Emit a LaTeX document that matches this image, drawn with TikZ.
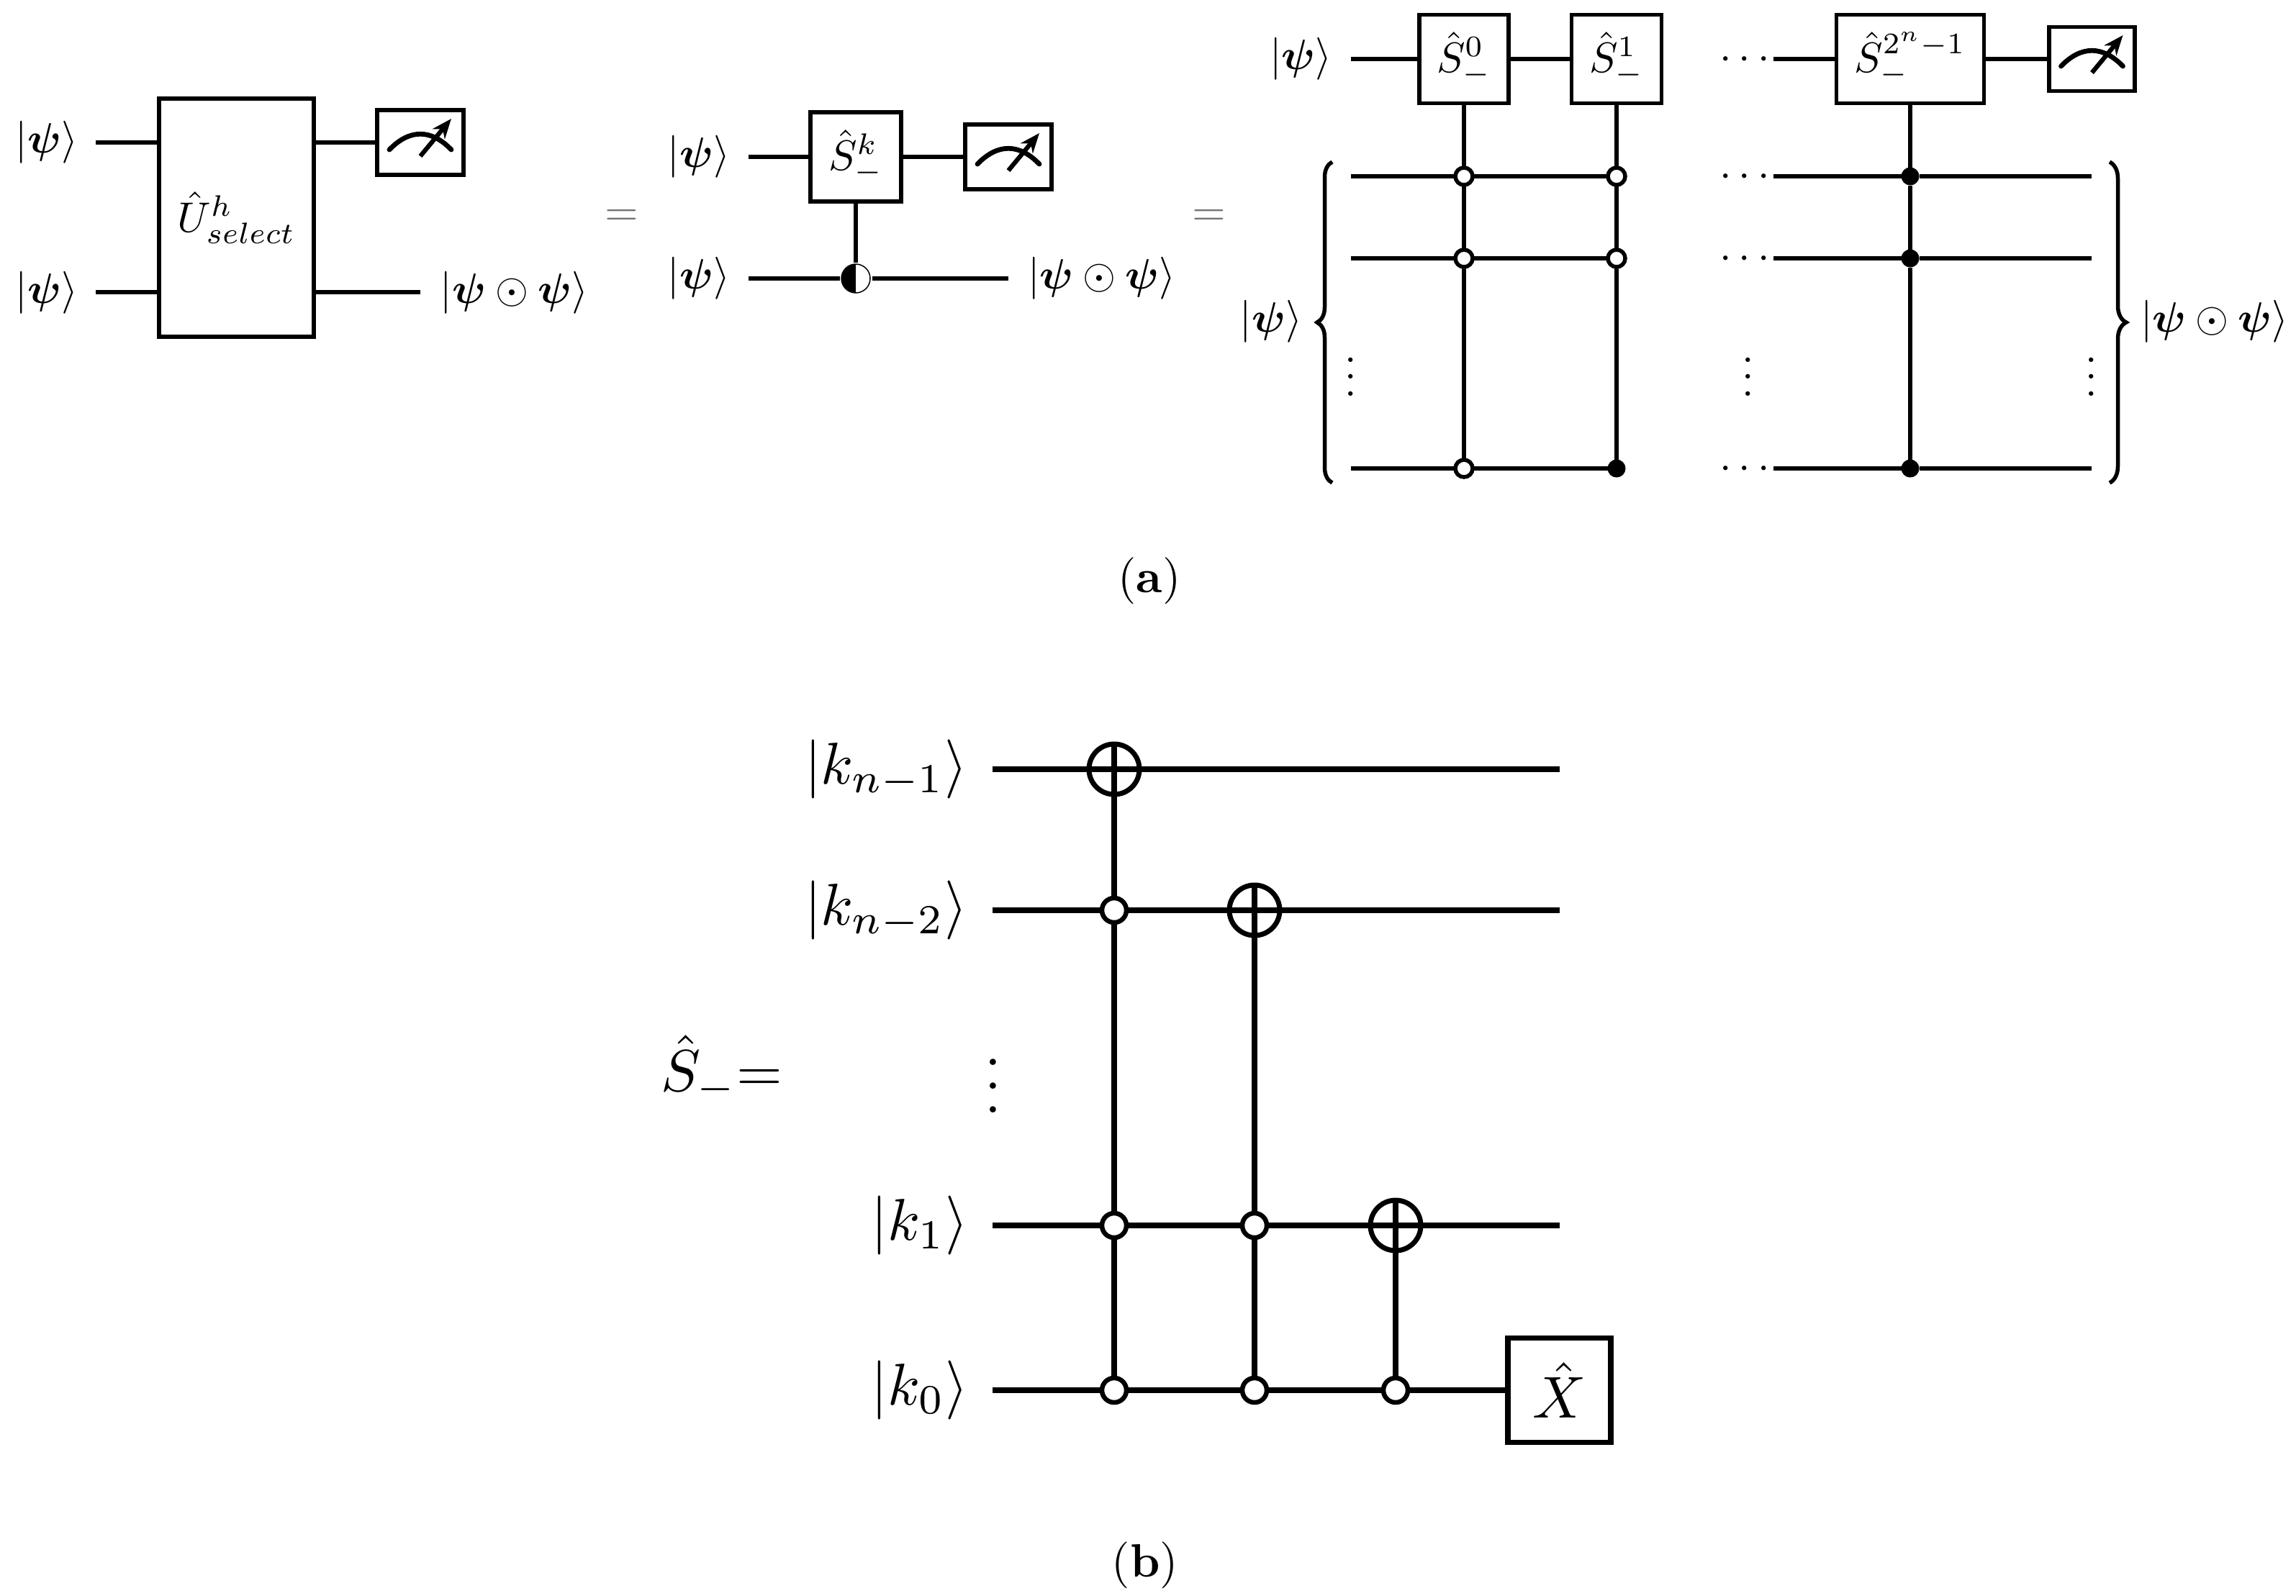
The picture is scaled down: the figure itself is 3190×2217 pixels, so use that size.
\documentclass[tikz,border=0pt]{standalone}
\usepackage{graphicx}
\usepackage{amsmath}
\usetikzlibrary{arrows.meta,decorations.pathreplacing}
\newcommand{\bpsi}{\boldsymbol{\psi}}
\newcommand{\kpsi}{\ensuremath{|\bpsi\rangle}}
\newcommand{\kdot}{\ensuremath{|\bpsi\odot\bpsi\rangle}}
\newcommand{\gl}[1]{\scalebox{1.18}{$#1$}}
\tikzset{
  lbl/.style={inner sep=0pt,scale=1.18,transform shape},
  eqlbl/.style={inner sep=0pt,scale=1.2,transform shape,text=black!55},
  biglbl/.style={inner sep=0pt,scale=1.64,transform shape},
  caplbl/.style={inner sep=0pt,scale=1.3,transform shape},
  wire/.style={line width=1.1pt},
  bigwire/.style={line width=1.5pt},
  gatebox/.style={draw,line width=1.1pt,inner sep=0pt,outer sep=0pt},
  meterbox/.style={draw,line width=1.1pt,inner sep=0pt,outer sep=0pt,minimum width=24pt,minimum height=18pt},
  ctrlo/.style={circle,draw,line width=1.1pt,inner sep=0pt,outer sep=0pt,minimum size=4.8pt},
  ctrlf/.style={circle,fill,inner sep=0pt,outer sep=0pt,minimum size=5pt},
  bigctrl/.style={circle,draw,line width=1.3pt,inner sep=0pt,outer sep=0pt,minimum size=6.8pt},
  target/.style={circle,draw,line width=1.4pt,inner sep=0pt,outer sep=0pt,minimum size=14pt},
  dotsv/.style={inner sep=0pt,anchor=south,scale=1.18,transform shape},
  dotsh/.style={inner sep=0pt,anchor=base,scale=1.18,transform shape},
  needle/.style={line width=1.25pt,-{Stealth[length=5.5pt,width=4.4pt]}}
}
\begin{document}
\begin{tikzpicture}[x=0.2pt,y=-0.2pt]
  \useasboundingbox (0,0) rectangle (3190,2217);
  % first circuit
  \node[lbl] (ka1) at (65,198) {\kpsi};
  \node[lbl] (ka2) at (65,407) {\kpsi};
  \node[gatebox,minimum width=43pt,minimum height=66.2pt] (Usel) at (328.5,302.5) {\gl{\hat{U}^{h}_{select}}};
  \node[meterbox] (ma) at (584,198) {};
  \node[lbl] (oa) at (714.5,407) {\kdot};
  \node[eqlbl] (eqa) at (863.5,302) {$=$};
  \coordinate (ia1) at (133,198);
  \coordinate (ia2) at (133,406);
  \coordinate (ea2) at (584,406);
  \draw[wire] (ia1) -- (ia1 -| Usel.west);
  \draw[wire] (ia2) -- (ia2 -| Usel.west);
  \draw[wire] (ia1 -| Usel.east) -- (ma.west);
  \draw[wire] (ia2 -| Usel.east) -- (ea2);
  % second circuit
  \node[lbl] (kb1) at (971,218) {\kpsi};
  \node[lbl] (kb2) at (971,387) {\kpsi};
  \node[gatebox,minimum width=25.2pt,minimum height=24.8pt] (Sk) at (1189,218) {\gl{\hat{S}^{k}_{-}}};
  \node[meterbox] (mb) at (1401,218) {};
  \node[circle,draw,line width=0.3pt,inner sep=0pt,outer sep=0.5pt,minimum size=8pt,
        path picture={\fill (path picture bounding box.south west) rectangle (path picture bounding box.north);}] (half) at (1189,387) {};
  \node[lbl] (ob) at (1531,387) {\kdot};
  \node[eqlbl] (eqb) at (1679.5,302) {$=$};
  \coordinate (ib1) at (1040,218);
  \coordinate (ib2) at (1040,387);
  \coordinate (eb2) at (1401,387);
  \draw[wire] (ib1) -- (Sk) -- (mb);
  \draw[wire] (ib2) -- (half) -- (eb2);
  \draw[wire] (Sk) -- (half.north);
  % third circuit
  \node[lbl] (kc1) at (1807.5,82) {\kpsi};
  \node[lbl] (kc2) at (1766,447) {\kpsi};
  \node[gatebox,minimum width=24.8pt,minimum height=24.6pt] (S0) at (2034,82) {\gl{\hat{S}^{0}_{-}}};
  \node[gatebox,minimum width=25pt,minimum height=24.6pt] (S1) at (2246,82) {\gl{\hat{S}^{1}_{-}}};
  \node[gatebox,minimum width=41pt,minimum height=24.6pt] (Sn) at (2654,82) {\gl{\hat{S}^{2^{n}-1}_{-}}};
  \node[meterbox,minimum width=23.8pt,minimum height=17.8pt] (mc) at (2906.5,82) {};
  \node[lbl] (oc) at (3077,447) {\kdot};
  \node[ctrlo] (p1) at (2034,245) {};
  \node[ctrlo] (p2) at (2034,359) {};
  \node[ctrlo] (p3) at (2034,651) {};
  \node[ctrlo] (q1) at (2246,245) {};
  \node[ctrlo] (q2) at (2246,359) {};
  \node[ctrlf] (q3) at (2246,651) {};
  \node[ctrlf] (r1) at (2654,245) {};
  \node[ctrlf] (r2) at (2654,359) {};
  \node[ctrlf] (r3) at (2654,651) {};
  \coordinate (ic0) at (1877,82);
  \coordinate (ic1) at (1877,245);
  \coordinate (ic2) at (1877,359);
  \coordinate (ic3) at (1877,651);
  \coordinate (jc0) at (2464,82);
  \coordinate (jc1) at (2464,245);
  \coordinate (jc2) at (2464,359);
  \coordinate (jc3) at (2464,651);
  \coordinate (ec1) at (2906,245);
  \coordinate (ec2) at (2906,359);
  \coordinate (ec3) at (2906,651);
  \draw[wire] (ic0) -- (S0) -- (S1);
  \draw[wire] (ic1) -- (p1) -- (q1);
  \draw[wire] (ic2) -- (p2) -- (q2);
  \draw[wire] (ic3) -- (p3) -- (q3);
  \draw[wire] (jc0) -- (Sn) -- (mc);
  \draw[wire] (jc1) -- (r1) -- (ec1);
  \draw[wire] (jc2) -- (r2) -- (ec2);
  \draw[wire] (jc3) -- (r3) -- (ec3);
  \draw[wire] (S0) -- (p1) -- (p2) -- (p3);
  \draw[wire] (S1) -- (q1) -- (q2) -- (q3);
  \draw[wire] (Sn) -- (r1) -- (r2) -- (r3);
  \coordinate (bl1) at (1851,671);
  \coordinate (bl2) at (1851,225);
  \coordinate (br1) at (2931,225);
  \coordinate (br2) at (2931,671);
  \draw[wire,decorate,decoration={brace,amplitude=4.2pt}] (bl1) -- (bl2);
  \draw[wire,decorate,decoration={brace,amplitude=4.6pt}] (br1) -- (br2);
  \node[dotsv] (vd1) at (1877,551.5) {$\vdots$};
  \node[dotsv] (vd2) at (2429,551.5) {$\vdots$};
  \node[dotsv] (vd3) at (2906,551.5) {$\vdots$};
  \node[dotsh] (hd0) at (2429,96.7) {$\cdots$};
  \node[dotsh] (hd1) at (2429,259.7) {$\cdots$};
  \node[dotsh] (hd2) at (2429,373.7) {$\cdots$};
  \node[dotsh] (hd3) at (2429,665.7) {$\cdots$};
  % the three meters
  \foreach \m in {ma,mb,mc} {
    \begin{scope}[shift={(\m.center)}]
      \draw[line width=1.35pt,line cap=round] (-43,10) .. controls (-15,-19) and (15,-19) .. (43,10);
      \draw[needle] (0,19) -- (43,-33);
    \end{scope}
  }
  \node[caplbl] (capa) at (1597,807) {(\textbf{a})};
  % lower circuit
  \node[biglbl] (k3) at (1231,1069) {$|k_{n-1}\rangle$};
  \node[biglbl] (k2) at (1231,1265) {$|k_{n-2}\rangle$};
  \node[biglbl] (k1) at (1278,1703) {$|k_{1}\rangle$};
  \node[biglbl] (k0) at (1278,1932) {$|k_{0}\rangle$};
  \node[biglbl,anchor=base] (Sdef) at (1003,1516) {$\hat{S}_{-}{=}$};
  \node[biglbl,anchor=south] (vd4) at (1379.5,1548) {$\vdots$};
  \node[target] (t3) at (1548,1069) {};
  \node[target] (t2) at (1743,1265) {};
  \node[target] (t1) at (1939,1703) {};
  \node[bigctrl] (c2a) at (1548,1265) {};
  \node[bigctrl] (c1a) at (1548,1703) {};
  \node[bigctrl] (c0a) at (1548,1932) {};
  \node[bigctrl] (c1b) at (1743,1703) {};
  \node[bigctrl] (c0b) at (1743,1932) {};
  \node[bigctrl] (c0c) at (1939,1932) {};
  \node[draw,line width=1.5pt,inner sep=0pt,outer sep=0pt,minimum width=28.6pt,minimum height=29pt] (Xg) at (2166.5,1932) {\scalebox{1.64}{$\hat{X}$}};
  \coordinate (s3) at (1379,1069);
  \coordinate (s2) at (1379,1265);
  \coordinate (s1) at (1379,1703);
  \coordinate (s0) at (1379,1932);
  \coordinate (e3) at (2167,1069);
  \coordinate (e2) at (2167,1265);
  \coordinate (e1) at (2167,1703);
  \draw[bigwire] (s3) -- (t3.west) -- (t3.east) -- (e3);
  \draw[bigwire] (s2) -- (c2a) -- (t2.west) -- (t2.east) -- (e2);
  \draw[bigwire] (s1) -- (c1a) -- (c1b) -- (t1.west) -- (t1.east) -- (e1);
  \draw[bigwire] (s0) -- (c0a) -- (c0b) -- (c0c) -- (Xg);
  \draw[bigwire] (t3.north) -- (t3.south) -- (c2a) -- (c1a) -- (c0a);
  \draw[bigwire] (t2.north) -- (t2.south) -- (c1b) -- (c0b);
  \draw[bigwire] (t1.north) -- (t1.south) -- (c0c);
  \node[caplbl] (capb) at (1591,2175) {(\textbf{b})};
\end{tikzpicture}
\end{document}
